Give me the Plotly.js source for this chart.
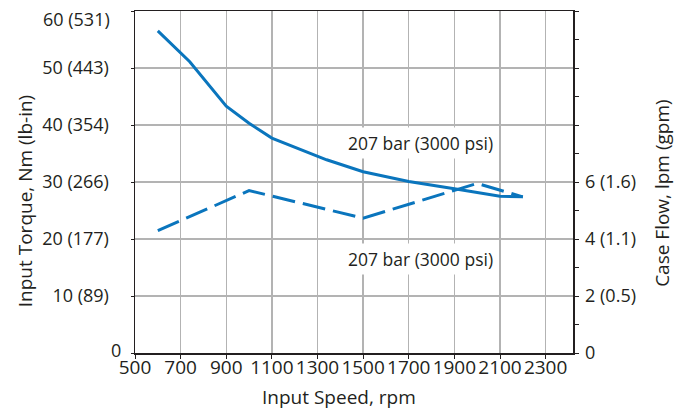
<!DOCTYPE html>
<html><head><meta charset="utf-8">
<script src="https://cdn.plot.ly/plotly-3.0.1.min.js"></script>
<style>html,body{margin:0;padding:0;background:#fff}#chart{width:691px;height:414px}</style>
</head><body><div id="chart"></div>
<script>
// Data
const speedTorque = [600, 740, 900, 1000, 1100, 1340, 1500, 1700, 1900, 2100, 2200];
const torqueNm    = [56.5, 51.1, 43.3, 40.3, 37.7, 33.9, 31.8, 30.1, 28.8, 27.5, 27.4];
const speedFlow   = [600, 1000, 1500, 2000, 2200];
const caseFlowLpm = [4.29, 5.70, 4.73, 5.95, 5.48];

const xTickVals = [500, 700, 900, 1100, 1300, 1500, 1700, 1900, 2100, 2300];
const yLeftVals = [0, 10, 20, 30, 40, 50, 60];
const yLeftText = ["", "10 (89)", "20 (177)", "30 (266)", "40 (354)", "50 (443)", ""];
const yLeftTopLabel = "60 (531)";
const yLeftZeroLabel = "0";
const yRightVals = [0, 1, 2, 3, 4, 5, 6, 7, 8, 9, 10, 11, 12];
const yRightText = ["0", "", "2 (0.5)", "", "4 (1.1)", "", "6 (1.6)", "", "", "", "", "", ""];

const xTitle = "Input Speed, rpm";
const yLeftTitle = "Input Torque, Nm (lb-in)";
const yRightTitle = "Case Flow, lpm (gpm)";
const torqueLabel = "207 bar (3000 psi)";
const flowLabel = "207 bar (3000 psi)";

const blue = "#0a75bd";
const ink = "#231f20";
const grid = "#b3b3b3";
const fontFam = "Open Sans, Noto Sans, sans-serif";

const traces = [
  {x: speedTorque, y: torqueNm, type: "scatter", mode: "lines",
   line: {color: blue, width: 3}, yaxis: "y", hoverinfo: "skip"},
  {x: speedFlow, y: caseFlowLpm, type: "scatter", mode: "lines",
   line: {color: blue, width: 3, dash: "23px,8px"}, yaxis: "y2", hoverinfo: "skip"}
];

const layout = {
  width: 691, height: 414,
  margin: {l: 135, r: 118, t: 11, b: 61, pad: 0},
  paper_bgcolor: "#fff", plot_bgcolor: "#fff",
  showlegend: false,
  font: {family: fontFam, size: 17, color: ink},
  xaxis: {
    range: [500, 2420], tickvals: xTickVals, ticktext: xTickVals.map(String),
    showgrid: true, gridcolor: grid, gridwidth: 1.3,
    showline: true, linecolor: ink, linewidth: 1.5, mirror: true,
    ticks: "outside", ticklen: 4, tickcolor: ink, tickwidth: 1,
    ticklabelstandoff: -7,
    zeroline: false, tickfont: {size: 19, color: ink}
  },
  yaxis: {
    range: [0, 60], tickvals: yLeftVals, ticktext: yLeftText,
    showgrid: true, gridcolor: grid, gridwidth: 1.3,
    showline: true, linecolor: ink, linewidth: 1.5,
    ticks: "outside", ticklen: 3, tickcolor: ink, tickwidth: 1,
    ticklabelstandoff: 18,
    zeroline: false, tickfont: {size: 18, color: ink}
  },
  yaxis2: {
    range: [0, 12], overlaying: "y", side: "right",
    tickvals: yRightVals, ticktext: yRightText,
    showgrid: false, showline: true, linecolor: ink, linewidth: 1.5,
    ticks: "outside", ticklen: 4, tickcolor: ink, tickwidth: 1,
    ticklabelstandoff: 3,
    zeroline: false, tickfont: {size: 18, color: ink}
  },
  annotations: [
    {text: torqueLabel, xref: "x", yref: "y", x: 1750, y: 36.8, showarrow: false,
     xanchor: "center", yanchor: "middle",
     bgcolor: "#fff", borderpad: 3, font: {size: 17.5, color: ink}},
    {text: flowLabel, xref: "x", yref: "y", x: 1750, y: 16.5, showarrow: false,
     xanchor: "center", yanchor: "middle",
     bgcolor: "#fff", borderpad: 3, font: {size: 17.5, color: ink}},
    {text: yLeftTopLabel, xref: "paper", yref: "paper", x: -0.053, y: 0.978, showarrow: false,
     xanchor: "right", yanchor: "middle", font: {size: 18, color: ink}},
    {text: yLeftZeroLabel, xref: "paper", yref: "paper", x: -0.027, y: 0.009, showarrow: false,
     xanchor: "right", yanchor: "middle", font: {size: 18, color: ink}},
    {text: xTitle, xref: "paper", yref: "paper", x: 0.466, y: -0.129, showarrow: false,
     xanchor: "center", yanchor: "middle", font: {size: 19, color: ink}},
    {text: yLeftTitle, xref: "paper", yref: "paper", x: -0.251, y: 0.444, textangle: -90,
     xanchor: "center", yanchor: "middle", showarrow: false, font: {size: 19, color: ink}},
    {text: yRightTitle, xref: "paper", yref: "paper", x: 1.203, y: 0.468, textangle: -90,
     xanchor: "center", yanchor: "middle", showarrow: false, font: {size: 19, color: ink}}
  ]
};

Plotly.newPlot("chart", traces, layout, {staticPlot: true, displayModeBar: false});
</script>
</body></html>
